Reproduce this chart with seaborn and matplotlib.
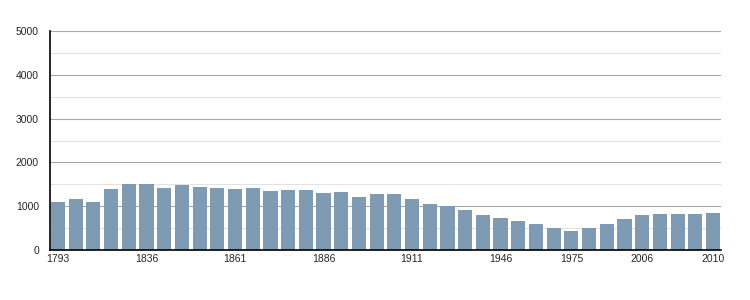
import matplotlib
matplotlib.use("Agg")
import matplotlib.pyplot as plt
import seaborn as sns
import pandas as pd
from matplotlib.ticker import MultipleLocator, NullLocator

years = [1793, 1800, 1806, 1821, 1831, 1836, 1841, 1846, 1851, 1856,
         1861, 1866, 1872, 1876, 1881, 1886, 1891, 1896, 1901, 1906,
         1911, 1921, 1926, 1931, 1936, 1946, 1954, 1962, 1968, 1975,
         1982, 1990, 1999, 2006, 2007, 2008, 2009, 2010]
population = [1090, 1160, 1090, 1387, 1500, 1500, 1410, 1478, 1433, 1410,
              1387, 1410, 1342, 1364, 1364, 1296, 1319, 1205, 1273, 1273,
              1160, 1046, 1000, 910, 796, 728, 660, 591, 500, 432,
              500, 591, 705, 796, 819, 819, 819, 841]
labeled_years = [1793, 1836, 1861, 1886, 1911, 1946, 1975, 2006, 2010]

df = pd.DataFrame({"year": [str(y) for y in years], "population": population})

sns.set_style("white")
plt.rcParams['font.family'] = ['Liberation Sans', 'DejaVu Sans']

fig = plt.figure(figsize=(7.5, 3), dpi=100)
ax = fig.add_axes([50/750, 1-250/300, (721-50)/750, (250-31)/300])

sns.barplot(data=df, x="year", y="population", color="#7f9ab3",
            width=0.8, saturation=1, linewidth=0, ax=ax, zorder=3)

ax.set_ylim(0, 5000)
ax.set_xlim(-0.45, len(years) - 0.55)
ax.yaxis.set_major_locator(MultipleLocator(1000))
ax.yaxis.set_minor_locator(MultipleLocator(500))
ax.xaxis.set_minor_locator(NullLocator())
ax.grid(axis="y", which="major", color="#a8a8a8", linewidth=0.8, zorder=0)
ax.grid(axis="y", which="minor", color="#e2e2e2", linewidth=0.8, zorder=0)
ax.grid(axis="x", visible=False)
ax.set_axisbelow(True)

ticks = [years.index(y) for y in labeled_years]
ax.set_xticks(ticks)
ax.set_xticklabels([str(y) for y in labeled_years])
ax.tick_params(axis="x", which="both", length=0, labelsize=7.5, pad=3)
ax.tick_params(axis="y", which="major", length=5, width=0.8, labelsize=7.5, pad=3, color="black")
ax.tick_params(axis="y", which="minor", length=2, width=0.8, color="black")

for s in ["top", "right"]:
    ax.spines[s].set_visible(False)
for s in ["left", "bottom"]:
    ax.spines[s].set_color("black")
    ax.spines[s].set_linewidth(1.2)
    ax.spines[s].set_zorder(10)

ax.set_xlabel("")
ax.set_ylabel("")

fig.savefig("out.png", dpi=100)
